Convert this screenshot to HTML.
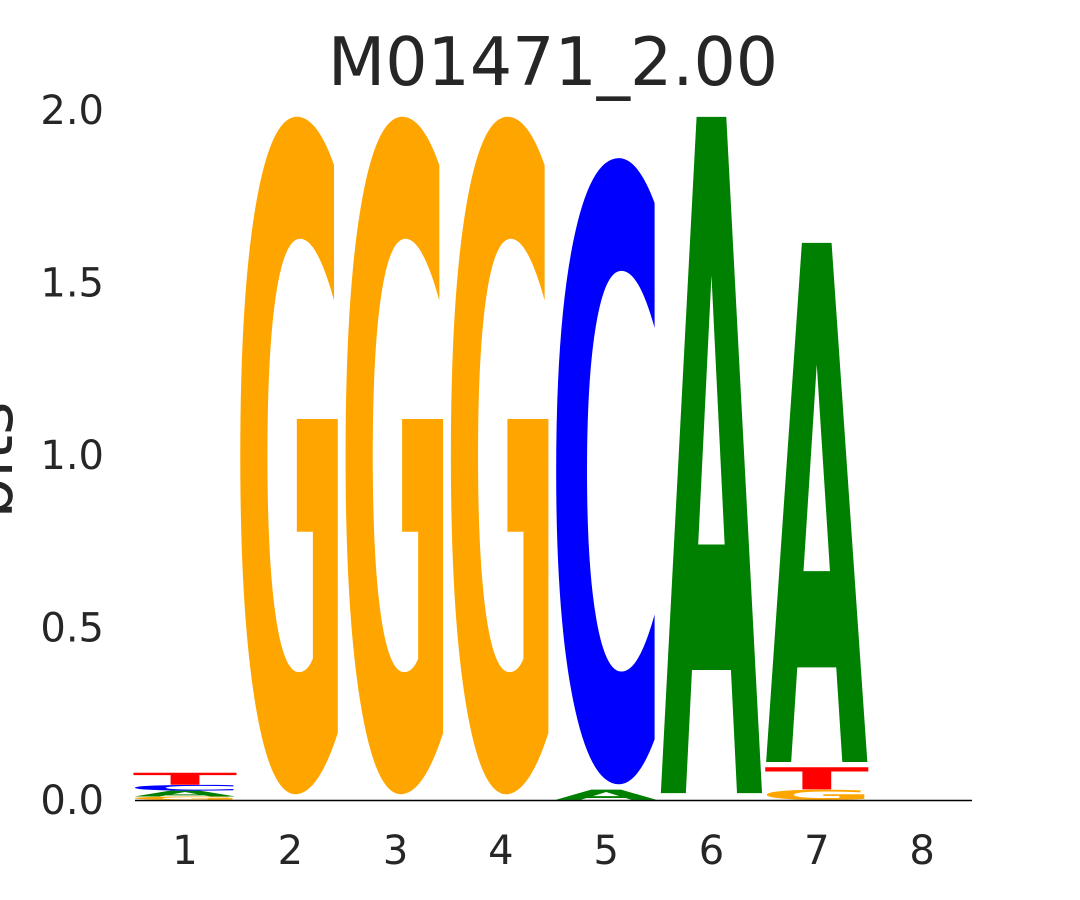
<!DOCTYPE html>
<html><head><meta charset="utf-8"><style>
html,body{margin:0;padding:0;background:#fff;overflow:hidden;width:1080px;height:900px;}
svg{display:block;font-family:"DejaVu Sans","Liberation Sans",sans-serif;}
</style></head><body>
<svg id="chart" width="1080" height="900" viewBox="0 0 1080 900" xmlns="http://www.w3.org/2000/svg">
<text x="553" y="85" font-size="66.5" text-anchor="middle" fill="#262626">M01471_2.00</text>
<text transform="translate(12,460) rotate(-90)" font-size="64" text-anchor="middle" fill="#262626">bits</text>
<g id="yticks"></g>
<g id="xticks"></g>
<g id="letters"></g>
<line x1="135" y1="800.5" x2="972" y2="800.5" stroke="#000" stroke-width="1.5"/>
</svg>
<script>
const positions = [1,2,3,4,5,6,7,8];
const yTickValues = [0,0.5,1.0,1.5,2.0];
const yTickLabels = ["0.0","0.5","1.0","1.5","2.0"];
// stacks bottom-to-top: letters and heights (bits)
const stackLetters = [["G","A","C","T"],["G"],["G"],["G"],["A","C"],["A"],["G","T","A"],[]];
const stackHeights = [[0.01,0.017,0.017,0.035],[1.98],[1.98],[1.98],[0.03,1.83],[1.98],[0.03,0.065,1.52],[]];

const NS="http://www.w3.org/2000/svg";
const y0=800, pxPerBit=345;
const yS=v=>y0-v*pxPerBit;
const xS=p=>185+(p-1)*105.3;
const colors={A:"#008000",C:"#0000FF",G:"#FFA500",T:"#FF0000"};
const metrics={G:[0.05,0.765,0.013],C:[0.05,0.68,0.013],A:[0.01,0.765,0],T:[0.015,0.667,0]};
const yt=document.getElementById('yticks');
yTickValues.forEach((v,i)=>{
  const t=document.createElementNS(NS,'text');
  
  
  t.setAttribute('x',104);t.setAttribute('y',yS(v)+14);
  t.setAttribute('font-size','40');t.setAttribute('text-anchor','end');t.setAttribute('fill','#262626');
  t.textContent=yTickLabels[i];yt.appendChild(t);
});
const xt=document.getElementById('xticks');
positions.forEach(p=>{
  const t=document.createElementNS(NS,'text');
  
  
  t.setAttribute('x',xS(p));t.setAttribute('y',864);
  t.setAttribute('font-size','40');t.setAttribute('text-anchor','middle');t.setAttribute('fill','#262626');
  t.textContent=String(p);xt.appendChild(t);
});
const lg=document.getElementById('letters');
const fs=100, W=100;
positions.forEach((p,i)=>{
  let acc=0;
  stackLetters[i].forEach((L,j)=>{
    const h=stackHeights[i][j];
    const bot=yS(acc), top=yS(acc+h);
    acc+=h;
    const hp=bot-top;
    const inkBot=bot-0.01*hp, inkH=inkBot-top;
    const m=metrics[L];
    const sx=W/((m[1]-m[0])*fs);
    const sy=inkH/((0.729+2*m[2])*fs);
    const base=inkBot-m[2]*fs*sy;
    const x0=xS(p)-W/2;
    const t=document.createElementNS(NS,'text');
    
    
    t.setAttribute('x',0);t.setAttribute('y',0);
    t.setAttribute('font-size',fs);t.setAttribute('font-weight','bold');
    t.setAttribute('fill',colors[L]);
    t.setAttribute('transform',`translate(${x0-m[0]*fs*sx},${base}) scale(${sx},${sy})`);
    t.textContent=L;lg.appendChild(t);
  });
});
</script>
</body></html>
